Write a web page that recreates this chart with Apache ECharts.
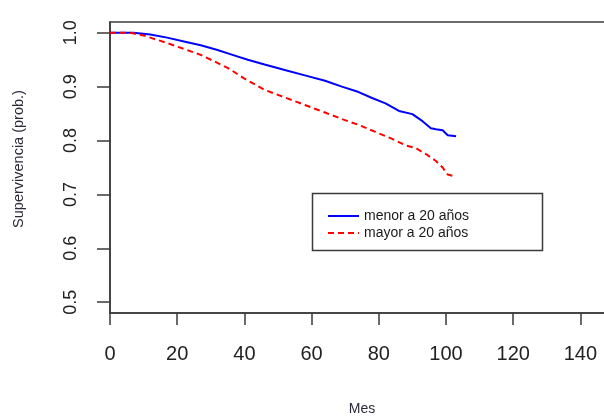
<!DOCTYPE html>
<html><head><meta charset="utf-8">
<script src="https://cdn.jsdelivr.net/npm/echarts@6/dist/echarts.min.js"></script>
<style>html,body{margin:0;padding:0;background:#fff}#c{width:604px;height:417px}</style>
</head><body><div id="c"></div>
<script>
const xTicks = [0, 20, 40, 60, 80, 100, 120, 140];
const yTicks = [0.5, 0.6, 0.7, 0.8, 0.9, 1.0];
const seriesNames = ['menor a 20 años', 'mayor a 20 años'];
const menorMes = [0, 7, 12, 17, 22, 27, 32, 36, 41, 46, 52, 58, 64, 69, 74, 78, 82, 86, 90, 93, 95.5, 97, 99, 100.5, 103];
const menorSurv = [1.0, 1.0, 0.997, 0.991, 0.984, 0.977, 0.968, 0.960, 0.950, 0.941, 0.931, 0.921, 0.911, 0.900, 0.890, 0.879, 0.869, 0.855, 0.849, 0.836, 0.823, 0.821, 0.819, 0.810, 0.808];
const mayorMes = [0, 6, 10, 14, 17, 22, 27, 31, 35, 40, 46, 52, 58, 64, 69, 74, 79, 84, 88, 91, 94, 97, 99, 100.5, 103];
const mayorSurv = [1.0, 1.0, 0.995, 0.987, 0.981, 0.970, 0.959, 0.947, 0.935, 0.915, 0.894, 0.880, 0.866, 0.852, 0.840, 0.829, 0.816, 0.803, 0.791, 0.786, 0.775, 0.762, 0.750, 0.737, 0.733];

const FONT = '"Liberation Sans", Arial, sans-serif';
const chart = echarts.init(document.getElementById('c'), null, {renderer: 'canvas'});
chart.setOption({
  animation: false,
  backgroundColor: '#fff',
  textStyle: {fontFamily: FONT},
  grid: {left: 110, top: 22, width: 504, bottom: 104, show: true, borderColor: '#3a3a3a', borderWidth: 1.5,
    containLabel: false, outerBoundsMode: 'none'},
  xAxis: {
    type: 'value', min: 0, max: 150, interval: 20,
    name: 'Mes', nameLocation: 'middle', nameGap: 89,
    nameTextStyle: {fontSize: 14, color: '#2a2a3a', fontFamily: FONT},
    axisLine: {show: true, lineStyle: {color: '#3a3a3a', width: 1.5}},
    axisTick: {show: true, length: 12, lineStyle: {color: '#3a3a3a', width: 1.5}, customValues: xTicks},
    axisLabel: {fontSize: 20, color: '#222', margin: 31, fontFamily: FONT, customValues: xTicks},
    splitLine: {show: false}
  },
  yAxis: {
    type: 'value', min: 0.48, max: 1.02,
    axisLine: {show: true, lineStyle: {color: '#3a3a3a', width: 1.5}},
    axisTick: {show: true, length: 13, lineStyle: {color: '#3a3a3a', width: 1.5}, customValues: yTicks},
    axisLabel: {fontSize: 18, color: '#222', margin: 30, rotate: 90, fontFamily: FONT, customValues: yTicks,
      formatter: v => v.toFixed(1)},
    splitLine: {show: false}
  },
  legend: {
    left: 322, top: 204, orient: 'vertical', itemWidth: 31, itemHeight: 14, itemGap: 3,
    itemStyle: {opacity: 0},
    textStyle: {fontSize: 14, color: '#1a1a1a', fontFamily: FONT},
    data: seriesNames
  },
  graphic: [
    {type: 'rect', shape: {x: 312.5, y: 193.5, width: 230, height: 57}, style: {fill: 'none', stroke: '#3a3a3a', lineWidth: 1.5}, z: 10},
    {type: 'text', x: 19, y: 159, rotation: Math.PI / 2,
      style: {text: 'Supervivencia (prob.)', fontSize: 14.5, fill: '#2a2a3a', fontFamily: FONT, align: 'center', verticalAlign: 'middle'}}
  ],
  series: [
    {name: seriesNames[0], type: 'line', symbol: 'none', data: menorMes.map((m, i) => [m, menorSurv[i]]),
      lineStyle: {color: '#0000ff', width: 2}, itemStyle: {color: '#0000ff'}},
    {name: seriesNames[1], type: 'line', symbol: 'none', data: mayorMes.map((m, i) => [m, mayorSurv[i]]),
      lineStyle: {color: '#ff0000', width: 2, type: [6, 4]}, itemStyle: {color: '#ff0000'}}
  ]
});
</script></body></html>
